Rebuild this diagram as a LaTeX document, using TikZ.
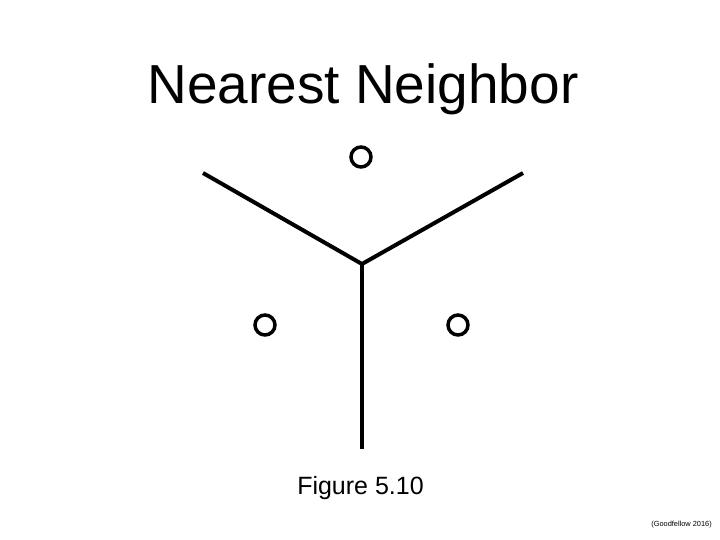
\documentclass[tikz,border=0pt]{standalone}
\usepackage{fontspec}
\setmainfont{Liberation Sans}
\begin{document}
\begin{tikzpicture}[x=1pt,y=-1pt,
  edge/.style={line width=4pt,black,line cap=butt},
  pt/.style={circle,draw=black,line width=3.5pt,minimum size=20pt,inner sep=0pt}]
\useasboundingbox (0,0) rectangle (720,540);
\node[anchor=base,font=\fontsize{55}{60}\selectfont] (title) at (363,104) {Nearest Neighbor};
\coordinate (j) at (362,264);
\coordinate (l) at (203,173);
\coordinate (r) at (523,173);
\coordinate (b) at (362,449);
\draw[edge] (l) -- (j) -- (r);
\draw[edge] (j) -- (b);
\node[pt] (p1) at (361,157) {};
\node[pt] (p2) at (265,325) {};
\node[pt] (p3) at (458,325) {};
\node[anchor=base,font=\fontsize{25}{30}\selectfont] (cap) at (360.5,494) {Figure 5.10};
\node[anchor=base east,font=\fontsize{7.4}{9}\selectfont,inner sep=0pt] (cite) at (712,526) {(Goodfellow 2016)};
\end{tikzpicture}
\end{document}
